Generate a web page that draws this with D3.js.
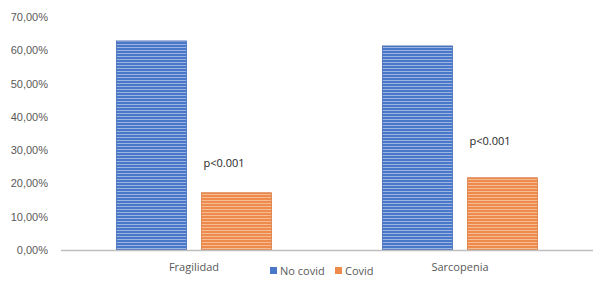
<!DOCTYPE html>
<html lang="es">
<head>
  <meta charset="UTF-8">
  <title>Fragilidad y sarcopenia</title>
  <script src="https://d3js.org/d3.v7.min.js"></script>
  <style>
    body { margin: 0; background: #fff; font-family: "Open Sans", "Liberation Sans", sans-serif; }
    svg { display: block; }
    .tick text { fill: #595959; font-size: 11px; }
    .cat { fill: #595959; font-size: 11px; }
    .legend text { fill: #595959; font-size: 11px; }
    .pval { fill: #262626; font-size: 11px; }
  </style>
</head>
<body>
  <svg id="chart" width="603" height="296"></svg>
  <script>
    // values (percent)
    const categories = ["Fragilidad", "Sarcopenia"];
    const series = ["No covid", "Covid"];
    const noCovid = [62.8, 61.3];
    const covid = [17.2, 21.7];
    const pLabels = ["p<0.001", "p<0.001"];
    const pLabelAt = [26.1, 32.7]; // height of the p-value note, in % units
    const yTicks = [0, 10, 20, 30, 40, 50, 60, 70];

    const colors = { "No covid": "#4a78c8", "Covid": "#ee8a4c" };
    const stripes = { "No covid": "#9bb4e2", "Covid": "#f6bd95" };

    const svg = d3.select("#chart");
    const margin = { top: 17, left: 61, right: 10, bottom: 46 };

    const x = d3.scaleBand()
      .domain(categories)
      .range([margin.left, 593]);

    const xInner = d3.scaleBand()
      .domain(series)
      .range([0, x.bandwidth()])
      .paddingInner(0.176)
      .paddingOuter(0.653);

    const y = d3.scaleLinear()
      .domain([0, 70])
      .range([250, margin.top]);

    // stripe patterns like the Office texture fill
    const defs = svg.append("defs");
    series.forEach((s, i) => {
      const p = defs.append("pattern")
        .attr("id", "pat" + i)
        .attr("patternUnits", "userSpaceOnUse")
        .attr("width", 4).attr("height", 3);
      p.append("rect").attr("width", 4).attr("height", 3).attr("fill", colors[s]);
      p.append("rect").attr("y", 2).attr("width", 4).attr("height", 1).attr("fill", stripes[s]);
    });

    // y axis labels only, no gridlines
    const yAxis = d3.axisLeft(y)
      .tickValues(yTicks)
      .tickSize(0)
      .tickPadding(13)
      .tickFormat(d => d3.format(".2f")(d).replace(".", ",") + "%");
    svg.append("g")
      .attr("transform", `translate(${margin.left},0)`)
      .call(yAxis)
      .call(g => g.select(".domain").remove());

    const rows = categories.map((c, i) => ({ cat: c, values: [noCovid[i], covid[i]] }));

    const groups = svg.append("g").selectAll("g")
      .data(rows)
      .join("g")
        .attr("transform", d => `translate(${x(d.cat)},0)`);

    groups.selectAll("rect")
      .data(d => d.values.map((v, j) => ({ s: series[j], j, v })))
      .join("rect")
        .attr("x", d => xInner(d.s))
        .attr("y", d => y(d.v))
        .attr("width", xInner.bandwidth())
        .attr("height", d => y(0) - y(d.v))
        .attr("fill", d => `url(#pat${d.j})`)
        .attr("stroke", d => d3.color(colors[d.s]).darker(0.3))
        .attr("stroke-width", 0.8);

    // baseline
    svg.append("line")
      .attr("x1", margin.left).attr("x2", 593)
      .attr("y1", y(0) + 0.5).attr("y2", y(0) + 0.5)
      .attr("stroke", "#bfbfbf")
      .attr("stroke-width", 1.5);

    // p-value notes
    groups.append("text")
      .attr("class", "pval")
      .attr("x", xInner("Covid") + 2)
      .attr("y", (d, i) => y(pLabelAt[i]))
      .attr("dy", "0.35em")
      .text((d, i) => pLabels[i]);

    // category labels
    svg.append("g").selectAll("text")
      .data(categories)
      .join("text")
        .attr("class", "cat")
        .attr("x", d => x(d) + x.bandwidth() / 2)
        .attr("y", 271)
        .attr("text-anchor", "middle")
        .text(d => d);

    // legend
    const legendX = [270, 335];
    const legend = svg.append("g").attr("class", "legend")
      .selectAll("g")
      .data(series)
      .join("g")
        .attr("transform", (d, i) => `translate(${legendX[i]},271)`);
    legend.append("rect")
      .attr("y", -4).attr("width", 7).attr("height", 7)
      .attr("fill", d => colors[d]);
    legend.append("text")
      .attr("x", 10)
      .attr("dy", "0.35em")
      .text(d => d);
  </script>
</body>
</html>
